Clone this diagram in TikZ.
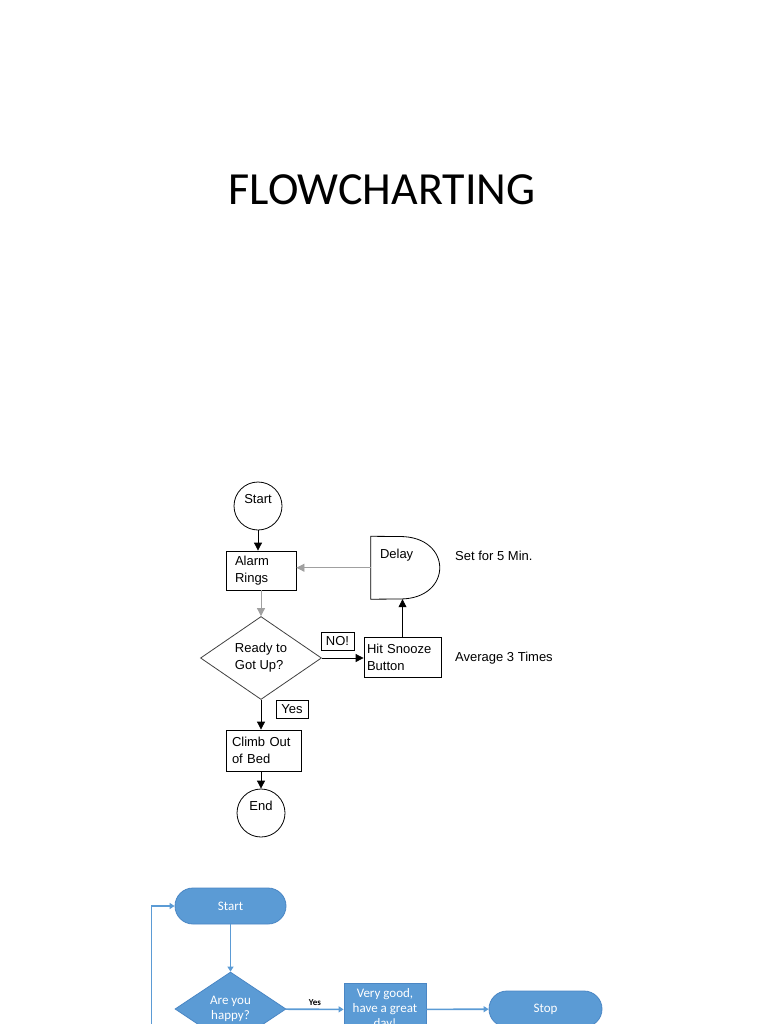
\documentclass[tikz,border=0pt]{standalone}
\usepackage{fontspec}
\setmainfont{Liberation Sans}
\newfontfamily\calib{Carlito}
\usetikzlibrary{shapes.geometric,arrows.meta,calc}
\definecolor{officeblue}{HTML}{5B9BD5}
\definecolor{officeedge}{HTML}{4A86C4}
\definecolor{lightline}{HTML}{A0A0A0}

\begin{document}
\begin{tikzpicture}[x=1pt,y=-1pt,
  circ/.style={draw,circle,line width=0.8pt,minimum size=48pt,inner sep=0pt,text depth=15pt,font=\fontsize{13}{17}\selectfont},
  box/.style={draw,rectangle,line width=0.8pt,inner ysep=0pt,align=left,font=\fontsize{13}{17}\selectfont},
  tag/.style={draw,rectangle,line width=0.8pt,inner sep=1pt,font=\fontsize{13}{15}\selectfont},
  note/.style={anchor=west,inner sep=0pt,font=\fontsize{13}{15}\selectfont},
  arr/.style={line width=0.8pt,-{Triangle[length=8pt,width=8pt]}},
  bterm/.style={draw=officeedge,fill=officeblue,line width=0.8pt,rounded corners=18pt,minimum width=111pt,minimum height=36pt,text=white,font=\calib\fontsize{13}{15}\selectfont},
  bdia/.style={draw=officeedge,fill=officeblue,line width=0.8pt,diamond,minimum width=111pt,minimum height=74pt,inner sep=0pt,align=center,text=white,font=\calib\fontsize{13}{15}\selectfont},
  bbox/.style={draw=officeedge,fill=officeblue,line width=0.8pt,minimum width=82pt,minimum height=53pt,inner sep=2pt,align=center,text=white,font=\calib\fontsize{13}{15}\selectfont},
  barr/.style={draw=officeblue,line width=1.6pt,-{Triangle[length=5pt,width=6pt]}}]
\useasboundingbox (0,0) rectangle (768,1024);
\clip (0,0) rectangle (768,1024);

% title
\node[anchor=base,font=\calib\fontsize{46}{50}\selectfont] (title) at (382,205) {FLOWCHARTING};

% alarm chart
\node[circ] (start) at (258,506) {Start};
\node[box,minimum width=70pt,minimum height=39pt,text width=52pt,inner xsep=9pt] (alarm) at (261,570.5) {Alarm\\Rings};
\node[draw=black!75,diamond,line width=0.8pt,minimum width=121pt,minimum height=83pt,inner sep=0pt,align=left,font=\fontsize{13}{17}\selectfont] (ready) at (261,658) {Ready to\\Got Up?};
\node[box,minimum width=77pt,minimum height=40pt,text width=71pt,inner xsep=3pt] (snooze) at (402.5,657) {Hit Snooze\\Button};
\node[box,minimum width=75pt,minimum height=41pt,text width=63pt,inner xsep=6pt] (climb) at (263.5,750.5) {Climb Out\\of Bed};
\node[circ] (end) at (261,813) {End};
\node[inner sep=0pt,minimum width=69pt,minimum height=62.5pt] (delay) at (405.5,567.75) {};
\draw[line width=0.8pt] (delay.north west) -- (400,536.5) .. controls (453,536.5) and (453,599) .. (400,599) -- (delay.south west) -- cycle;
\node[anchor=north west,inner sep=0pt,font=\fontsize{13}{15}\selectfont] (delaytext) at ($(delay.north west)+(9,13)$) {Delay};
\node[tag,minimum width=33pt,minimum height=18pt] (no) at (337.5,641) {NO!};
\node[tag,minimum width=32pt,minimum height=18pt] (yes) at (292,709) {Yes};
\node[note] (setnote) at (455,556) {Set for 5 Min.};
\node[note] (avgnote) at (455,658) {Average 3 Times};

\draw[arr] (start.south) -- (start.south |- alarm.north);
\draw[arr,draw=lightline] (alarm.south) -- (ready.north);
\draw[arr,draw=lightline] (delay.west) -- (delay.west -| alarm.east);
\draw[arr] (ready.east) -- (ready.east -| snooze.west);
\draw[arr] (snooze.north) -- (snooze.north |- delay.south);
\draw[arr] (ready.south) -- (ready.south |- climb.north);
\draw[arr] (end.north |- climb.south) -- (end.north);

% happy chart
\node[bterm] (bstart) at (230.5,906) {Start};
\node[bdia] (happy) at (230.5,1009) {Are you\\happy?};
\node[bbox] (good) at (385,1009.5) {Very good,\\have a great\\day!};
\node[bterm,minimum width=113pt] (stop) at (545.5,1009) {Stop};
\coordinate (loopend) at (151.5,1040);

\draw[barr] (bstart) -- (happy);
\draw[barr] (happy) -- node[above=3pt,inner sep=0pt,font=\calib\bfseries\fontsize{9}{10}\selectfont] (yeslabel) {Yes} (good);
\draw[barr] (good) -- (stop);
\draw[barr] (loopend) |- (bstart.west);
\end{tikzpicture}
\end{document}
